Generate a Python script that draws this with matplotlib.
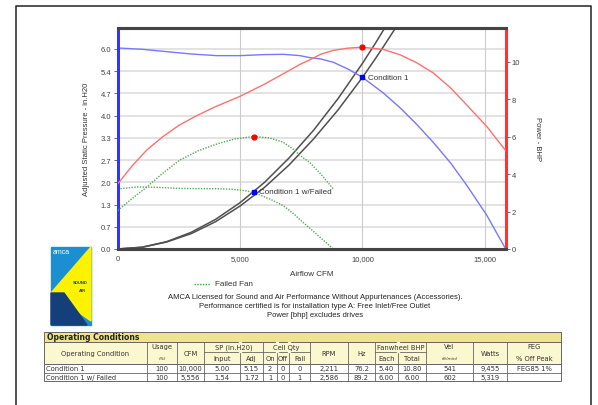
import matplotlib
matplotlib.use("Agg")
import matplotlib.pyplot as plt
from matplotlib.patches import Rectangle, Polygon

# ---------------- data ----------------
fan_cfm = [0, 1000, 1850, 3000, 4040, 5000, 5940, 6760, 7443, 7855, 8300, 8810, 9400, 10000, 10850, 11530, 12200, 12890, 13600, 14250, 15070, 15850]
fan_sp = [6.03, 5.99, 5.93, 5.85, 5.80, 5.80, 5.83, 5.84, 5.80, 5.74, 5.70, 5.60, 5.40, 5.15, 4.68, 4.24, 3.75, 3.20, 2.58, 1.92, 1.02, 0.0]

bhp_cfm = [0, 600, 1200, 1850, 2500, 3230, 4000, 5000, 6000, 6760, 7443, 7855, 8300, 8810, 9400, 10000, 10850, 11530, 12200, 12890, 13600, 14250, 15070, 15850]
bhp_val = [3.47, 4.45, 5.3, 6.0, 6.6, 7.12, 7.6, 8.15, 8.8, 9.35, 9.85, 10.1, 10.4, 10.6, 10.72, 10.77, 10.65, 10.37, 9.95, 9.4, 8.6, 7.7, 6.55, 5.25]

fail_bhp_cfm = [0, 500, 1180, 1800, 2540, 3300, 4040, 4800, 5556, 6200, 6760, 7200, 7443, 7855, 8300, 8810]
fail_bhp_val = [2.05, 2.6, 3.3, 4.0, 4.75, 5.25, 5.6, 5.88, 6.0, 5.93, 5.7, 5.3, 5.0, 4.6, 4.0, 3.2]

fail_sp_cfm = [0, 775, 1600, 2400, 3230, 4040, 4700, 5300, 5810, 6300, 6760, 7200, 7443, 7855, 8300, 8810]
fail_sp_val = [1.80, 1.86, 1.85, 1.82, 1.81, 1.81, 1.79, 1.74, 1.62, 1.47, 1.30, 1.05, 0.88, 0.62, 0.33, 0.0]

sys_cfm = [0, 1000, 2000, 3000, 4000, 5000, 6000, 7000, 8000, 9000, 10000, 10500, 10900, 11340]
sys1_sp = [0, 0.05, 0.21, 0.46, 0.82, 1.29, 1.85, 2.52, 3.30, 4.17, 5.15, 5.68, 6.12, 6.62]
sys2_sp = [0, 0.056, 0.22, 0.50, 0.89, 1.39, 2.00, 2.73, 3.56, 4.51, 5.57, 6.14, 6.62, 7.16]

op_cfm = [10000, 5556]
op_sp = [5.15, 1.72]
op_bhp = [10.77, 6.0]
op_names = ["Condition 1", "Condition 1 w/Failed"]

sp_ticks = [0, 2/3, 4/3, 2, 8/3, 10/3, 4, 14/3, 16/3, 6]
sp_ticklabels = ["0.0", "0.7", "1.3", "2.0", "2.7", "3.3", "4.0", "4.7", "5.4", "6.0"]
bhp_ticks = [0, 2, 4, 6, 8, 10]
cfm_ticks = [0, 5000, 10000, 15000]
cfm_ticklabels = ["0", "5,000", "10,000", "15,000"]

notes = ["AMCA Licensed for Sound and Air Performance Without Appurtenances (Accessories).",
         "Performance certified is for installation type A: Free Inlet/Free Outlet",
         "Power [bhp] excludes drives"]

table_title = "Operating Conditions"
row_names = ["Condition 1", "Condition 1 w/ Failed"]
usage = ["100", "100"]
cfm_col = ["10,000", "5,556"]
sp_input = ["5.00", "1.54"]
sp_adj = ["5.15", "1.72"]
cell_on = ["2", "1"]
cell_off = ["0", "0"]
cell_fail = ["0", "1"]
rpm = ["2,211", "2,586"]
hz = ["76.2", "89.2"]
bhp_each = ["5.40", "6.00"]
bhp_total = ["10.80", "6.00"]
vel = ["541", "602"]
watts = ["9,455", "5,319"]
feg = ["FEG85 1%", ""]

# ---------------- figure ----------------
W, H = 598, 406
fig = plt.figure(figsize=(W / 100, H / 100), dpi=100)
fig.patch.set_facecolor("white")
CF = "Liberation Sans"
TF = "DejaVu Sans"

ov = fig.add_axes([0, 0, 1, 1], zorder=0)
ov.set_xlim(0, W)
ov.set_ylim(H, 0)
ov.axis("off")
ov.plot([16, 16, 591, 591], [406, 7, 7, 406], color="#333333", lw=1.2)

x0, x1, yt, yb = 117.7, 505.7, 29.3, 250.0
ax = fig.add_axes([x0 / W, 1 - yb / H, (x1 - x0) / W, (yb - yt) / H], zorder=2)
ax.patch.set_alpha(0)
ax.set_xlim(0, 15850)
ax.set_ylim(0, 6.62)
ax2 = ax.twinx()
ax2.set_ylim(0, 11.78)

for yv in sp_ticks:
    ax.axhline(yv, color="#e2e2e2", lw=1.4, zorder=0)
for xv in cfm_ticks[1:]:
    ax.axvline(xv, color="#cccccc", lw=0.8, zorder=0)

ax.plot(sys_cfm, sys1_sp, color="#505050", lw=1.1, zorder=3)
ax.plot(sys_cfm, sys2_sp, color="#505050", lw=1.1, zorder=3)
ax.plot(fan_cfm, fan_sp, color="#7777ff", lw=1.0, zorder=4)
ax.plot(fail_sp_cfm, fail_sp_val, color="#55aa55", lw=1.0, ls=(0, (1, 1)), zorder=4)
ax2.plot(bhp_cfm, bhp_val, color="#ff7070", lw=1.0, zorder=4)
ax2.plot(fail_bhp_cfm, fail_bhp_val, color="#55aa55", lw=1.0, ls=(0, (1, 1)), zorder=4)

ax.plot(op_cfm, op_sp, ls="none", marker="s", ms=3.5, color="#0000ff", zorder=6)
ax2.plot(op_cfm, op_bhp, ls="none", marker="o", ms=3.5, color="#ff0000", zorder=6)
for cx, cy, name in zip(op_cfm, op_sp, op_names):
    ax.annotate(name, (cx, cy), xytext=(4, 0), textcoords="offset points",
                va="center", ha="left", fontsize=5.8, family=CF, color="#333333", zorder=7)

ax.set_xticks(cfm_ticks)
ax.set_xticklabels(cfm_ticklabels)
ax.set_yticks(sp_ticks)
ax.set_yticklabels(sp_ticklabels)
ax2.set_yticks(bhp_ticks)
ax.tick_params(axis="x", length=0, pad=4, labelsize=5.5, labelcolor="#444444")
ax.tick_params(axis="y", length=3, width=0.6, color="#555555", pad=1.5, labelsize=5.5, labelcolor="#444444")
ax2.tick_params(axis="y", length=3, width=0.6, color="#555555", pad=1.5, labelsize=5.5, labelcolor="#444444")
for lab in ax.get_xticklabels() + ax.get_yticklabels() + ax2.get_yticklabels():
    lab.set_family(CF)

for a in (ax, ax2):
    a.spines["top"].set_color("#444444")
    a.spines["top"].set_linewidth(2.2)
    a.spines["bottom"].set_color("#444444")
    a.spines["bottom"].set_linewidth(2.2)
    a.spines["left"].set_color("#3333ff")
    a.spines["left"].set_linewidth(2.0)
    a.spines["right"].set_color("#ff3333")
    a.spines["right"].set_linewidth(2.0)

ov.text(87, 139, "Adjusted Static Pressure - in.H20", rotation=90, ha="center", va="center",
        fontsize=5.5, family=CF, color="#333333")
ov.text(538, 139, "Power - BHP", rotation=270, ha="center", va="center",
        fontsize=5.5, family=CF, color="#333333")
ov.text(311.5, 275, "Airflow CFM", ha="center", va="center", fontsize=5.8, family=CF, color="#333333")

ov.plot([194, 210], [285, 285], color="#33aa33", lw=1.0, ls=(0, (1, 1)))
ov.text(215, 285, "Failed Fan", ha="left", va="center", fontsize=5.8, family=CF, color="#333333")

for i, t in enumerate(notes):
    ov.text(315, 297.5 + 9 * i, t, ha="center", va="center", fontsize=5.5, family=CF, color="#222222")

# logo
lx0, lx1, ly0, ly1 = 51, 91, 248, 326
ov.add_patch(Rectangle((lx0, ly0), lx1 - lx0, ly1 - ly0, color="#1b8fd2", zorder=1))
ov.add_patch(Polygon([(lx1, ly0), (lx1, ly1 - 4), (lx0, 294)], closed=True, color="#fff200", zorder=2))
ov.add_patch(Polygon([(lx0, 294), (lx0, ly1), (lx1 - 4, ly1), (lx1 - 14, 312), (64, 294)], closed=True, color="#143f7a", zorder=3))
ov.text(53, 253, "amca", fontsize=5, color="white", family=CF, va="center", ha="left", zorder=4)
ov.text(80, 283, "SOUND", fontsize=3, color="#143f7a", family=CF, fontweight="bold", va="center", ha="center", zorder=4)
ov.text(82, 291, "AIR", fontsize=3, color="#143f7a", family=CF, fontweight="bold", va="center", ha="center", zorder=4)

# ---------------- table ----------------
cols = [44, 147, 177, 204, 240, 263, 277, 289, 310, 348, 375, 398, 426, 473, 507, 561]
t_top, t_h1, t_h2, t_h3, r1, r2 = 333, 342.5, 353, 365, 373.5, 382
hdr_bg = "#fbf7cf"
title_bg = "#efe38e"
lc = "#666666"
ov.add_patch(Rectangle((cols[0], t_top), cols[-1] - cols[0], t_h1 - t_top, facecolor=title_bg, edgecolor=lc, lw=0.7, zorder=1))
ov.add_patch(Rectangle((cols[0], t_h1), cols[-1] - cols[0], t_h3 - t_h1, facecolor=hdr_bg, edgecolor=lc, lw=0.7, zorder=1))
ov.add_patch(Rectangle((cols[0], t_h3), cols[-1] - cols[0], r2 - t_h3, facecolor="white", edgecolor=lc, lw=0.7, zorder=1))
ov.text(cols[0] + 3, (t_top + t_h1) / 2, table_title, fontsize=5.5, fontweight="bold", family=TF,
        va="center", ha="left", color="#222222", zorder=3)


def hline(xa, xb, y):
    ov.plot([xa, xb], [y, y], color=lc, lw=0.6, zorder=2)


def vline(x, ya, yb):
    ov.plot([x, x], [ya, yb], color=lc, lw=0.6, zorder=2)


hline(cols[0], cols[-1], t_h3)
hline(cols[0], cols[-1], r1)
for c in cols[1:-1]:
    vline(c, t_h1, r2)
hline(cols[3], cols[5], t_h2)
hline(cols[5], cols[8], t_h2)
hline(cols[10], cols[12], t_h2)
for c in (cols[4], cols[6], cols[7], cols[11]):
    ov.add_patch(Rectangle((c - 0.8, t_h1 + 0.4), 1.6, t_h2 - t_h1 - 0.8, color=hdr_bg, zorder=2.5))

hs = 4.9
tc = "#333333"


def ctext(x, y, s, fs=hs, ha="center", **kw):
    ov.text(x, y, s, ha=ha, va="center", fontsize=fs, family=TF, color=tc, zorder=3, **kw)


def mid(a, b):
    return (a + b) / 2


ctext(mid(cols[0], cols[1]), mid(t_h1, t_h3), "Operating Condition")
ctext(mid(cols[1], cols[2]), t_h1 + 5, "Usage")
ctext(mid(cols[1], cols[2]), t_h2 + 6, "(%)", fs=3.2, style="italic")
ctext(mid(cols[2], cols[3]), mid(t_h1, t_h3), "CFM")
ctext(mid(cols[3], cols[5]), mid(t_h1, t_h2), "SP (in.H20)")
ctext(mid(cols[3], cols[4]), mid(t_h2, t_h3), "Input")
ctext(mid(cols[4], cols[5]), mid(t_h2, t_h3), "Adj")
ctext(mid(cols[5], cols[8]), mid(t_h1, t_h2), "Cell Qty")
ctext(mid(cols[5], cols[6]), mid(t_h2, t_h3), "On")
ctext(mid(cols[6], cols[7]), mid(t_h2, t_h3), "Off")
ctext(mid(cols[7], cols[8]), mid(t_h2, t_h3), "Fail")
ctext(mid(cols[8], cols[9]), mid(t_h1, t_h3), "RPM")
ctext(mid(cols[9], cols[10]), mid(t_h1, t_h3), "Hz")
ctext(mid(cols[10], cols[12]), mid(t_h1, t_h2), "Fanwheel BHP")
ctext(mid(cols[10], cols[11]), mid(t_h2, t_h3), "Each")
ctext(mid(cols[11], cols[12]), mid(t_h2, t_h3), "Total")
ctext(mid(cols[12], cols[13]), t_h1 + 5, "Vel")
ctext(mid(cols[12], cols[13]), t_h2 + 6, "(ft/min)", fs=3.2, style="italic")
ctext(mid(cols[13], cols[14]), mid(t_h1, t_h3), "Watts")
ctext(mid(cols[14], cols[15]), t_h1 + 5, "FEG")
ctext(mid(cols[14], cols[15]), t_h2 + 6, "% Off Peak")

row_y = [mid(t_h3, r1), mid(r1, r2)]
data_cols = [usage, cfm_col, sp_input, sp_adj, cell_on, cell_off, cell_fail, rpm, hz,
             bhp_each, bhp_total, vel, watts, feg]
for i in range(2):
    ctext(cols[0] + 2, row_y[i], row_names[i], ha="left")
    for j, col in enumerate(data_cols):
        ctext(mid(cols[j + 1], cols[j + 2]), row_y[i], col[i])

fig.savefig("out.png", dpi=100)
